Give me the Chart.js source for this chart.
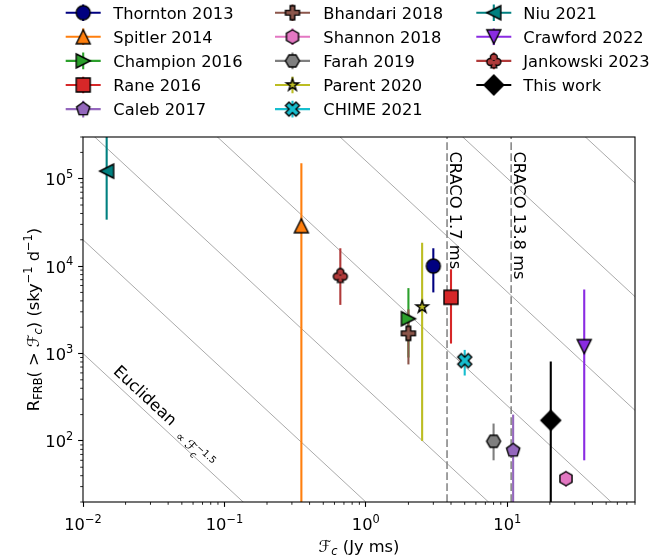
<!DOCTYPE html>
<html>
<head>
<meta charset="utf-8">
<script src="https://cdn.jsdelivr.net/npm/chart.js@4.4.1/dist/chart.umd.min.js"></script>
<style>
html, body { margin: 0; padding: 0; background: #fff; }
#wrap { width: 667px; height: 560px; }
</style>
</head>
<body>
<div id="wrap"><canvas id="chart" width="667" height="560"></canvas></div>
<script>
// surveys, in the order they were plotted
var studies = ["Thornton 2013", "Spitler 2014", "Champion 2016", "Rane 2016", "Caleb 2017",
  "Bhandari 2018", "Shannon 2018", "Farah 2019", "Parent 2020", "CHIME 2021",
  "Niu 2021", "Crawford 2022", "Jankowski 2023", "This work"];
// fluence limit F_c (Jy ms)
var fluence = [3.0, 0.35, 2.0, 4.0, 11.0, 2.0, 26, 8.0, 2.5, 5.0, 0.0147, 35, 0.66, 20.3];
// all-sky rate (sky^-1 d^-1) with lower / upper error ends
var rate = [1.0e4, 2.9e4, 2.5e3, 4.4e3, 78, 1.7e3, 37, 99, 3.4e3, 830, 1.22e5, 1.2e3, 7.8e3, 172];
var rateLow = [5.0e3, 10, 9.0e2, 1.3e3, 10, 7.5e2, 30, 60, 1.0e2, 560, 3.4e4, 60, 3.6e3, 10];
var rateHigh = [1.6e4, 1.5e5, 5.6e3, 9.2e3, 200, 3.2e3, 45, 158, 1.85e4, 1.1e3, 6e5, 5.4e3, 1.6e4, 810];
var colors = ["navy", "#ff7f0e", "#2ca02c", "#d62728", "#9467bd", "#8c564b", "#e377c2",
  "#7f7f7f", "#bcbd22", "#17becf", "teal", "blueviolet", "#b03a3a", "black"];
var markers = ["o", "^", ">", "s", "p", "P", "h", "H", "*", "X", "<", "v", "club", "D"];
// Euclidean lines R = k * F^-1.5
var euclidNorm = [1, 20, 400, 8000, 1.6e5, 3.2e6, 6.4e7];
// CRACO completeness limits
var cracoFluence = [3.75, 10.65];
var cracoLabels = ["CRACO 1.7 ms", "CRACO 13.8 ms"];
var xRange = [0.01, 80];
var yRange = [20, 3e5];

var FS = 16.3, SS = 11.4;
var FAM = '"DejaVu Sans", "Liberation Sans", sans-serif';
function font(s, it) { return (it ? 'italic ' : '') + s + 'px ' + FAM; }

function poly(g, pts, k) {
  g.moveTo(pts[0][0] * k, pts[0][1] * k);
  for (var i = 1; i < pts.length; i++) g.lineTo(pts[i][0] * k, pts[i][1] * k);
  g.closePath();
}
function ngon(g, n, r, a0, inner) {
  var pts = [];
  for (var i = 0; i < n * (inner ? 2 : 1); i++) {
    var rr = inner && i % 2 ? r * inner : r;
    var a = a0 + i * Math.PI * 2 / (n * (inner ? 2 : 1));
    pts.push([Math.cos(a) * rr, Math.sin(a) * rr]);
  }
  poly(g, pts, 1);
}

function makeMarker(kind, fill) {
  var c = document.createElement('canvas');
  c.width = 28; c.height = 28;
  var g = c.getContext('2d');
  g.translate(14, 14);
  g.fillStyle = fill;
  g.strokeStyle = '#000';
  g.lineWidth = 1.4;
  g.lineJoin = 'miter';
  g.beginPath();
  var r = 7;
  if (kind === 'o') g.arc(0, 0, r, 0, Math.PI * 2);
  else if (kind === 's') g.rect(-r, -r, 2 * r, 2 * r);
  else if (kind === '^') poly(g, [[0, -1], [-1, 1], [1, 1]], r);
  else if (kind === 'v') poly(g, [[0, 1], [-1, -1], [1, -1]], r);
  else if (kind === '<') poly(g, [[-1, 0], [1, -1], [1, 1]], r);
  else if (kind === '>') poly(g, [[1, 0], [-1, -1], [-1, 1]], r);
  else if (kind === 'p') ngon(g, 5, r, -Math.PI / 2);
  else if (kind === 'h') ngon(g, 6, r, -Math.PI / 2);
  else if (kind === 'H') ngon(g, 6, r, 0);
  else if (kind === '*') ngon(g, 5, 6.4, -Math.PI / 2, 0.381966);
  else if (kind === 'D') poly(g, [[0, -1], [1, 0], [0, 1], [-1, 0]], 9.9);
  else if (kind === 'P') poly(g, [[-1, -3], [1, -3], [1, -1], [3, -1], [3, 1], [1, 1], [1, 3], [-1, 3], [-1, 1], [-3, 1], [-3, -1], [-1, -1]], r / 3);
  else if (kind === 'X') poly(g, [[-1, -2], [0, -1], [1, -2], [2, -1], [1, 0], [2, 1], [1, 2], [0, 1], [-1, 2], [-2, 1], [-1, 0], [-2, -1]], r / 2);
  else if (kind === 'club') {
    var lobes = [[0, -3.5], [-3.5, 1.0], [3.5, 1.0]], lr = 2.8;
    lobes.forEach(function (l) { g.moveTo(l[0] + lr, l[1]); g.arc(l[0], l[1], lr, 0, Math.PI * 2); });
    g.moveTo(-0.7, 0); g.lineTo(0.7, 0); g.lineTo(2.0, 6.2); g.lineTo(-2.0, 6.2); g.closePath();
    g.lineWidth = 2.8;
    g.stroke();
    g.fill();
    return c;
  }
  g.fill();
  g.stroke();
  return c;
}
var markerImgs = markers.map(function (m, i) { return makeMarker(m, colors[i]); });

var datasets = [];
euclidNorm.forEach(function (k) {
  datasets.push({
    data: [{x: xRange[0], y: k * Math.pow(xRange[0], -1.5)}, {x: xRange[1], y: k * Math.pow(xRange[1], -1.5)}],
    showLine: true, borderColor: 'rgba(128,128,128,0.75)', borderWidth: 0.9, pointRadius: 0, order: 1000
  });
});
cracoFluence.forEach(function (f) {
  datasets.push({
    data: [{x: f, y: yRange[0]}, {x: f, y: yRange[1]}],
    showLine: true, borderColor: '#808080', borderWidth: 1.5, borderDash: [7.7, 3.3], pointRadius: 0, order: 900
  });
});
studies.forEach(function (name, i) {
  datasets.push({
    data: [{x: fluence[i], y: rateLow[i]}, {x: fluence[i], y: rateHigh[i]}],
    showLine: true, borderColor: colors[i], borderWidth: 2.1, pointRadius: 0, order: 500 - i
  });
});
studies.forEach(function (name, i) {
  datasets.push({
    label: name, data: [{x: fluence[i], y: rate[i]}],
    pointStyle: markerImgs[i], pointRadius: 8, order: 100 - i
  });
});

function logTicks(scale) {
  var t = [];
  var lo = Math.floor(Math.log10(scale.min)), hi = Math.ceil(Math.log10(scale.max));
  for (var e = lo; e <= hi; e++) {
    for (var m = 1; m < 10; m++) {
      var v = m * Math.pow(10, e);
      if (v >= scale.min * 0.999 && v <= scale.max * 1.001) t.push({value: v, major: m === 1});
    }
  }
  scale.ticks = t;
}
var majorColor = function (c) { return c.tick && c.tick.major ? '#000' : 'rgba(0,0,0,0)'; };

function drawParts(ctx, parts, x, y, align) {
  var w = 0;
  parts.forEach(function (p) {
    ctx.font = font(p.s || FS, p.it);
    p.w = ctx.measureText(p.t).width;
    if (!p.stay) w += p.w;
  });
  var cx = align === 'center' ? x - w / 2 : (align === 'right' ? x - w : x);
  ctx.textAlign = 'left';
  ctx.textBaseline = 'alphabetic';
  parts.forEach(function (p) {
    ctx.font = font(p.s || FS, p.it);
    ctx.fillText(p.t, cx, y + (p.dy || 0));
    if (!p.stay) cx += p.w;
  });
}
function powLabel(v) {
  var e = Math.round(Math.log10(v));
  return [{t: '10'}, {t: String(e).replace('-', '\u2212'), s: SS, dy: -7.3}];
}

var decor = {
  id: 'decor',
  afterDraw: function (chart) {
    var ctx = chart.ctx, a = chart.chartArea;
    var xs = chart.scales.x, ys = chart.scales.y;
    ctx.save();
    ctx.fillStyle = '#000';
    ctx.strokeStyle = '#000';
    // frame
    ctx.lineWidth = 1.1;
    ctx.strokeRect(a.left, a.top, a.right - a.left, a.bottom - a.top);
    // minor ticks
    ctx.lineWidth = 0.85;
    ctx.beginPath();
    xs.ticks.forEach(function (t) {
      if (t.major) return;
      var px = xs.getPixelForValue(t.value);
      ctx.moveTo(px, a.bottom); ctx.lineTo(px, a.bottom + 2.8);
    });
    ys.ticks.forEach(function (t) {
      if (t.major) return;
      var py = ys.getPixelForValue(t.value);
      ctx.moveTo(a.left, py); ctx.lineTo(a.left - 2.8, py);
    });
    ctx.stroke();
    // tick labels
    xs.ticks.forEach(function (t) {
      if (t.major) drawParts(ctx, powLabel(t.value), xs.getPixelForValue(t.value), a.bottom + 28, 'center');
    });
    ys.ticks.forEach(function (t) {
      if (t.major) drawParts(ctx, powLabel(t.value), a.left - 9.7, ys.getPixelForValue(t.value) + 6.5, 'right');
    });
    // axis titles
    drawParts(ctx, [{t: '\u2131'}, {t: 'c', s: SS, dy: 3.3, it: true}, {t: ' (Jy ms)'}], (a.left + a.right) / 2, 552, 'center');
    ctx.save();
    ctx.translate(38.5, (a.top + a.bottom) / 2);
    ctx.rotate(-Math.PI / 2);
    drawParts(ctx, [{t: 'R'}, {t: 'FRB', s: SS, dy: 3.3}, {t: '( > '}, {t: '\u2131'},
      {t: 'c', s: SS, dy: 3.3, it: true}, {t: ') (sky'}, {t: '\u22121', s: SS, dy: -7},
      {t: ' d'}, {t: '\u22121', s: SS, dy: -7}, {t: ')'}], 0, 0, 'center');
    ctx.restore();
    // CRACO labels
    cracoFluence.forEach(function (f, i) {
      ctx.save();
      ctx.translate(xs.getPixelForValue(f) + 3.3, a.top + 14.5);
      ctx.rotate(Math.PI / 2);
      drawParts(ctx, [{t: cracoLabels[i]}], 0, 0, 'left');
      ctx.restore();
    });
    // Euclidean label along the k=1 line
    var f0 = 0.0151, f1 = 1;
    var x0 = xs.getPixelForValue(f0), y0 = ys.getPixelForValue(euclidNorm[0] * Math.pow(f0, -1.5));
    var x1 = xs.getPixelForValue(f1), y1 = ys.getPixelForValue(euclidNorm[0] * Math.pow(f1, -1.5));
    var ang = Math.atan2(y1 - y0, x1 - x0);
    ctx.save();
    ctx.translate(x0 + 6 * Math.sin(ang), y0 - 6 * Math.cos(ang));
    ctx.rotate(ang);
    drawParts(ctx, [{t: 'Euclidean  '}, {t: '\u221d ', s: 12, dy: 5}, {t: '\u2131', s: 13.5, dy: 5},
      {t: 'c', s: 9.5, dy: 8.5, it: true, stay: true}, {t: '\u22121.5', s: 9.5, dy: -1}], 0, 0, 'left');
    ctx.restore();
    // legend, three columns of five
    var cols = [[83.2, 113.3], [292.5, 323.3], [493.8, 523.3]];
    studies.forEach(function (name, i) {
      var c = cols[Math.floor(i / 5)], base = 19 + (i % 5) * 24.1, hy = base - 6.3;
      ctx.strokeStyle = colors[i];
      ctx.lineWidth = 2.1;
      ctx.beginPath();
      ctx.moveTo(c[0] - 17.5, hy); ctx.lineTo(c[0] + 17.5, hy);
      ctx.moveTo(c[0], hy - 8.3); ctx.lineTo(c[0], hy + 8.3);
      ctx.stroke();
      ctx.drawImage(markerImgs[i], c[0] - 14, hy - 14);
      ctx.fillStyle = '#000';
      drawParts(ctx, [{t: name}], c[1], base, 'left');
    });
    ctx.restore();
  }
};

new Chart(document.getElementById('chart').getContext('2d'), {
  type: 'scatter',
  data: {datasets: datasets},
  options: {
    responsive: false,
    animation: false,
    events: [],
    layout: {padding: {left: 0, right: 32, top: 137, bottom: 0}},
    plugins: {legend: {display: false}, tooltip: {enabled: false}},
    scales: {
      x: {
        type: 'logarithmic', position: 'bottom', min: xRange[0], max: xRange[1],
        afterBuildTicks: logTicks,
        afterFit: function (s) { s.height = 58; },
        ticks: {display: false, autoSkip: false},
        grid: {display: true, drawOnChartArea: false, drawTicks: true, tickLength: 4.9, tickWidth: 1.1, tickColor: majorColor},
        border: {display: false}
      },
      y: {
        type: 'logarithmic', position: 'left', min: yRange[0], max: yRange[1],
        afterBuildTicks: logTicks,
        afterFit: function (s) { s.width = 83; },
        ticks: {display: false, autoSkip: false},
        grid: {display: true, drawOnChartArea: false, drawTicks: true, tickLength: 4.9, tickWidth: 1.1, tickColor: majorColor},
        border: {display: false}
      }
    }
  },
  plugins: [decor]
});
</script>
</body>
</html>
